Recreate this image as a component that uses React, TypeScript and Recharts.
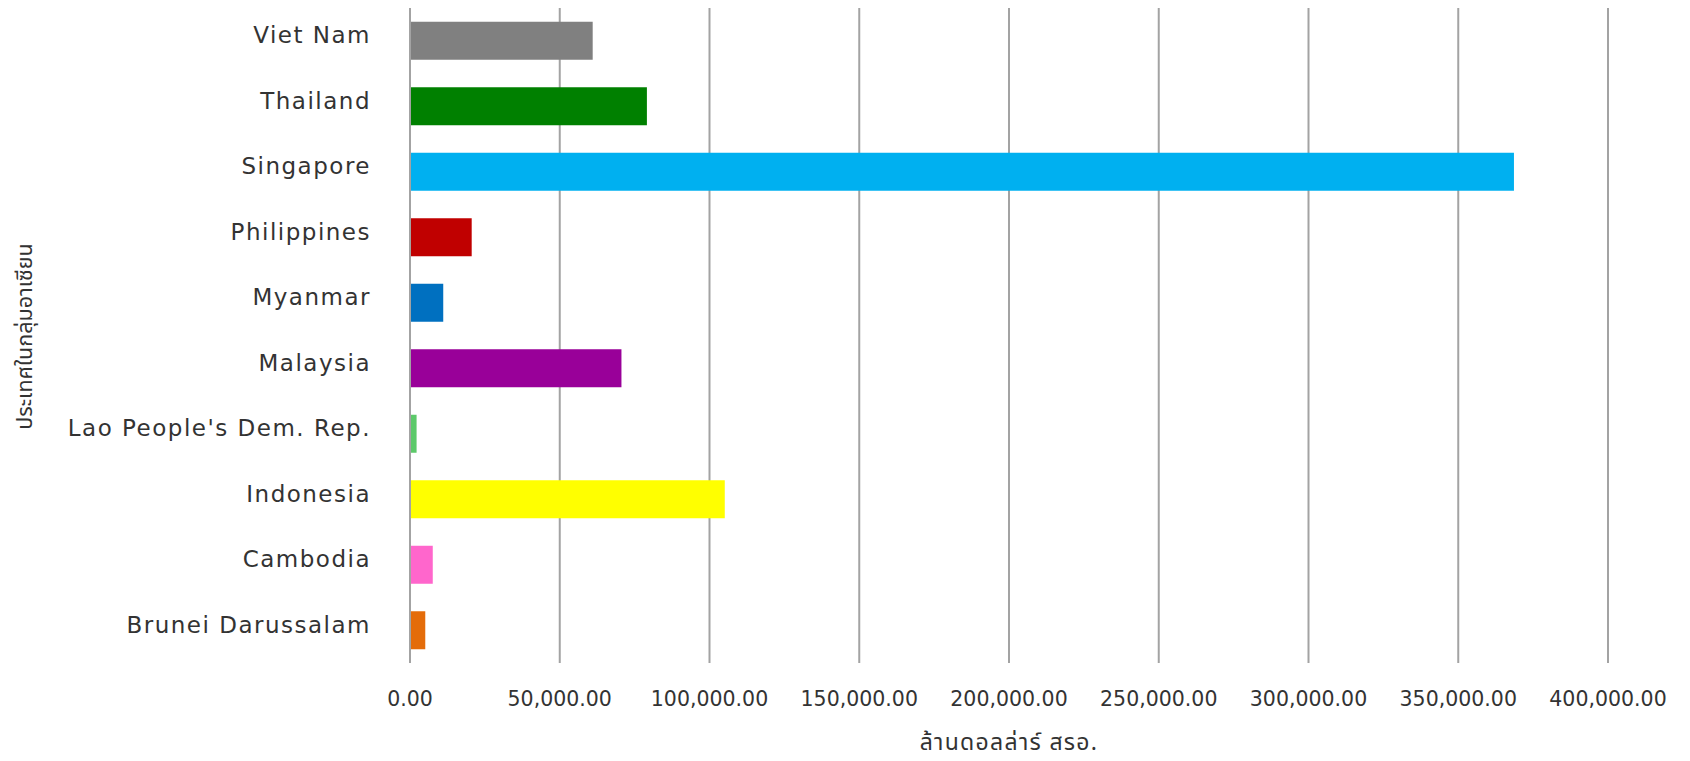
import React from "react";
import {
  BarChart,
  Bar,
  XAxis,
  YAxis,
  CartesianGrid,
  Cell,
} from "recharts";

// countries listed bottom-to-top as in the chart
const countries = [
  "Brunei Darussalam",
  "Cambodia",
  "Indonesia",
  "Lao People's Dem. Rep.",
  "Malaysia",
  "Myanmar",
  "Philippines",
  "Singapore",
  "Thailand",
  "Viet Nam",
];
const values = [5100, 7600, 105100, 2200, 70600, 11100, 20600, 368600, 79100, 61000];
const colors = [
  "#E46C0A",
  "#FF66CC",
  "#FFFF00",
  "#5CC96A",
  "#990099",
  "#0070C0",
  "#C00000",
  "#00B0F0",
  "#008000",
  "#808080",
];
const xTicks = [0, 50000, 100000, 150000, 200000, 250000, 300000, 350000, 400000];
const xTitle = "ล้านดอลล่าร์ สรอ.";
const yTitle = "ประเทศในกลุ่มอาเซียน";

const data = countries.map((c, i) => ({ country: c, value: values[i] }));

const GRID = "#a3a3a3";
const TEXT = "#333333";
const FONT = "'DejaVu Sans', Verdana, sans-serif";
const THAI_FONT = "Tahoma, 'Noto Sans Thai', 'DejaVu Sans', sans-serif";

const fmt = (v: number) =>
  v.toLocaleString("en-US", { minimumFractionDigits: 2, maximumFractionDigits: 2 });

function CountryTick(props: any) {
  const { x, y, payload } = props;
  return (
    <text
      x={x}
      y={y - 6}
      dy="0.36em"
      textAnchor="end"
      fill={TEXT}
      fontSize={23}
      letterSpacing={1.5}
      fontFamily={FONT}
    >
      {payload.value}
    </text>
  );
}

export default function App() {
  return (
    <div style={{ position: "absolute", left: 0, top: 0, background: "#fff" }}>
      <BarChart
        width={1690}
        height={761}
        data={data}
        layout="vertical"
        margin={{ top: 8, right: 82, left: 0, bottom: 0 }}
        barCategoryGap="21%"
      >
        <CartesianGrid
          horizontal={false}
          vertical
          stroke={GRID}
          strokeWidth={2}
        />
        <XAxis
          type="number"
          domain={[0, 400000]}
          ticks={xTicks}
          tickFormatter={fmt}
          axisLine={false}
          tickLine={false}
          tickMargin={22}
          height={98}
          tick={{ fontSize: 20.5, fill: TEXT, fontFamily: FONT }}
          label={{
            content: (p: any) => {
              const vb = p.viewBox;
              return (
                <text
                  x={vb.x + vb.width / 2}
                  y={vb.y + 87}
                  textAnchor="middle"
                  fill={TEXT}
                  fontSize={23}
                  letterSpacing={1.3}
                  fontFamily={THAI_FONT}
                >
                  {xTitle}
                </text>
              );
            },
          }}
        />
        <YAxis
          type="category"
          dataKey="country"
          reversed
          width={410}
          axisLine={{ stroke: GRID, strokeWidth: 2 }}
          tickLine={false}
          tickMargin={33}
          tick={<CountryTick />}
          interval={0}
          label={{
            content: (p: any) => {
              const vb = p.viewBox;
              const cx = vb.x + 25;
              const cy = vb.y + vb.height / 2 + 1;
              return (
                <text
                  x={cx}
                  y={cy}
                  transform={`rotate(-90, ${cx}, ${cy})`}
                  textAnchor="middle"
                  dominantBaseline="central"
                  fill={TEXT}
                  fontSize={21.5}
                  fontFamily={THAI_FONT}
                >
                  {yTitle}
                </text>
              );
            },
          }}
        />
        <Bar dataKey="value" isAnimationActive={false}>
          {data.map((d, i) => (
            <Cell key={d.country} fill={colors[i]} />
          ))}
        </Bar>
      </BarChart>
    </div>
  );
}
